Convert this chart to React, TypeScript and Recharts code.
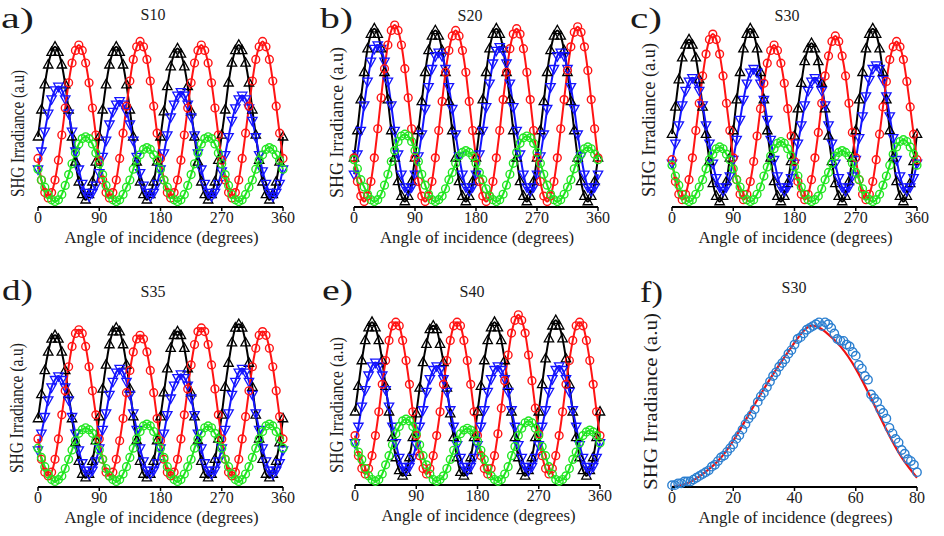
import { LineChart, Line, XAxis, YAxis } from 'recharts'

const SERIF = '"Liberation Serif", "Times New Roman", serif'
const INK = '#1b1b1b'

// rotation scans: one sample every 5 degrees, 0..360
const ANGLES = Array.from({ length: 73 }, (_, i) => i * 5)
const ROTATION_TICKS = [0, 90, 180, 270, 360]

// incidence scan: one sample per degree, 0..80
const INCIDENCE = Array.from({ length: 81 }, (_, i) => i)
const INCIDENCE_TICKS = [0, 20, 40, 60, 80]
const FIT_STEP = 5

// S10
const s10Black = [.39,.54,.68,.79,.86,.89,.86,.79,.68,.54,.39,.25,.14,.07,.04,.07,.14,.25,.39,.54,.68,.79,.86,.89,.86,.79,.68,.54,.39,.25,.14,.07,.04,.07,.14,.25,.39,.53,.67,.78,.85,.88,.85,.78,.67,.53,.39,.25,.14,.07,.04,.07,.14,.26,.40,.54,.69,.80,.87,.90,.87,.80,.69,.54,.40,.26,.14,.07,.04,.07,.14,.25,.39]
const s10Blue = [.21,.31,.42,.52,.60,.65,.67,.65,.60,.52,.42,.31,.21,.13,.08,.06,.08,.12,.19,.28,.37,.46,.53,.57,.59,.57,.53,.46,.37,.28,.19,.12,.08,.06,.08,.13,.21,.30,.40,.50,.57,.62,.64,.62,.57,.50,.40,.30,.21,.13,.08,.06,.08,.13,.20,.29,.39,.48,.55,.60,.62,.60,.55,.48,.39,.29,.20,.13,.08,.06,.08,.13,.21]
const s10Red = [.27,.15,.08,.05,.08,.15,.26,.40,.55,.69,.80,.87,.90,.87,.80,.69,.55,.40,.26,.15,.08,.05,.08,.15,.27,.41,.56,.70,.82,.89,.92,.89,.82,.70,.56,.41,.27,.15,.08,.05,.08,.15,.26,.40,.55,.69,.80,.87,.90,.87,.80,.69,.55,.40,.26,.15,.08,.05,.08,.15,.27,.41,.56,.70,.82,.89,.92,.89,.82,.70,.56,.41,.27]
const s10Green = [.21,.15,.11,.07,.04,.03,.04,.07,.12,.18,.24,.30,.35,.38,.39,.38,.35,.30,.24,.18,.12,.07,.04,.03,.04,.07,.11,.15,.21,.26,.29,.32,.33,.32,.29,.26,.21,.15,.11,.07,.04,.03,.04,.07,.12,.18,.24,.30,.35,.38,.39,.38,.35,.30,.24,.18,.12,.07,.04,.03,.04,.07,.11,.15,.21,.26,.29,.32,.33,.32,.29,.26,.21]

// S20
const s20Black = [.27,.42,.59,.74,.87,.95,.98,.95,.87,.74,.59,.42,.27,.14,.06,.03,.06,.14,.27,.42,.58,.74,.86,.94,.97,.94,.86,.74,.58,.42,.27,.14,.06,.03,.06,.14,.27,.42,.59,.74,.87,.95,.98,.95,.87,.74,.59,.42,.27,.14,.06,.03,.06,.14,.27,.42,.58,.74,.86,.94,.97,.94,.86,.74,.58,.42,.27,.14,.06,.03,.06,.14,.27]
const s20Blue = [.18,.29,.42,.56,.69,.80,.87,.89,.87,.80,.69,.56,.42,.29,.18,.11,.09,.11,.18,.28,.40,.54,.66,.76,.83,.85,.83,.76,.66,.54,.40,.28,.18,.11,.09,.11,.18,.29,.42,.55,.68,.79,.86,.88,.86,.79,.68,.55,.42,.29,.18,.11,.09,.11,.18,.28,.40,.54,.66,.76,.83,.85,.83,.76,.66,.54,.40,.28,.18,.11,.09,.11,.18]
const s20Red = [.27,.14,.06,.03,.06,.14,.27,.43,.60,.76,.89,.97,1.0,.97,.89,.76,.60,.43,.27,.14,.06,.03,.06,.14,.27,.42,.58,.74,.86,.94,.97,.94,.86,.74,.58,.42,.27,.14,.06,.03,.06,.14,.27,.42,.59,.74,.87,.95,.98,.95,.87,.74,.59,.42,.27,.14,.06,.03,.06,.14,.27,.43,.59,.75,.88,.96,.99,.96,.88,.75,.59,.43,.27]
const s20Green = [.26,.21,.15,.11,.07,.04,.03,.04,.07,.12,.18,.25,.31,.36,.39,.40,.39,.36,.31,.25,.18,.12,.07,.04,.03,.04,.06,.10,.15,.19,.24,.28,.30,.31,.30,.28,.24,.19,.15,.10,.06,.04,.03,.04,.07,.12,.18,.24,.30,.35,.38,.39,.38,.35,.30,.24,.18,.12,.07,.04,.03,.04,.07,.11,.15,.21,.26,.29,.32,.33,.32,.29,.26]

// S30
const s30Black = [.40,.55,.70,.82,.89,.92,.89,.82,.70,.55,.40,.25,.13,.06,.03,.06,.14,.27,.42,.59,.74,.87,.95,.98,.95,.87,.74,.59,.42,.27,.14,.06,.03,.06,.13,.25,.39,.54,.68,.80,.87,.90,.87,.80,.68,.54,.39,.25,.13,.06,.03,.06,.14,.27,.42,.59,.74,.87,.95,.98,.95,.87,.74,.59,.42,.27,.14,.06,.03,.06,.13,.25,.40]
const s30Blue = [.24,.35,.45,.56,.64,.69,.71,.69,.64,.56,.45,.35,.24,.16,.11,.09,.11,.17,.26,.37,.48,.59,.68,.74,.76,.74,.68,.59,.48,.37,.26,.17,.11,.09,.11,.16,.24,.35,.45,.56,.64,.69,.71,.69,.64,.56,.45,.35,.24,.16,.11,.09,.11,.17,.26,.38,.50,.61,.70,.76,.78,.76,.70,.61,.50,.38,.26,.17,.11,.09,.11,.16,.24]
const s30Red = [.26,.14,.07,.04,.07,.15,.27,.42,.57,.72,.84,.92,.95,.92,.84,.72,.57,.42,.27,.15,.07,.04,.07,.14,.25,.39,.54,.68,.79,.86,.89,.86,.79,.68,.54,.39,.25,.14,.07,.04,.07,.15,.27,.41,.57,.72,.83,.91,.94,.91,.83,.72,.57,.41,.27,.15,.07,.04,.07,.14,.26,.40,.55,.69,.81,.88,.91,.88,.81,.69,.55,.40,.26]
const s30Green = [.23,.17,.12,.07,.04,.03,.04,.07,.11,.15,.21,.26,.29,.32,.33,.32,.29,.26,.21,.15,.11,.07,.04,.03,.04,.07,.11,.17,.22,.28,.32,.35,.36,.35,.32,.28,.22,.17,.11,.07,.04,.03,.04,.06,.10,.15,.19,.24,.28,.30,.31,.30,.28,.24,.19,.15,.10,.06,.04,.03,.04,.07,.12,.17,.23,.29,.33,.36,.37,.36,.33,.29,.23]

// S35
const s35Black = [.37,.50,.63,.73,.80,.82,.80,.73,.63,.50,.37,.24,.14,.07,.05,.07,.14,.25,.38,.53,.66,.77,.84,.86,.84,.77,.66,.53,.38,.25,.14,.07,.05,.07,.14,.25,.38,.51,.64,.75,.82,.84,.82,.75,.64,.51,.38,.25,.14,.07,.05,.07,.15,.26,.39,.54,.67,.78,.86,.88,.86,.78,.67,.54,.39,.26,.15,.07,.05,.07,.14,.24,.37]
const s35Blue = [.20,.29,.38,.47,.54,.58,.60,.58,.54,.47,.38,.29,.20,.13,.09,.07,.09,.14,.21,.31,.40,.50,.57,.62,.64,.62,.57,.50,.40,.31,.21,.14,.09,.07,.09,.13,.21,.29,.39,.48,.55,.59,.61,.59,.55,.48,.39,.29,.21,.13,.09,.07,.09,.14,.21,.31,.40,.50,.57,.62,.64,.62,.57,.50,.40,.31,.21,.14,.09,.07,.09,.13,.20]
const s35Red = [.26,.15,.08,.06,.08,.15,.26,.39,.52,.65,.76,.83,.85,.83,.76,.65,.52,.39,.26,.15,.08,.06,.08,.15,.25,.37,.51,.63,.73,.80,.82,.80,.73,.63,.51,.37,.25,.15,.08,.06,.08,.15,.26,.39,.53,.66,.77,.84,.86,.84,.77,.66,.53,.39,.26,.15,.08,.06,.08,.15,.26,.38,.52,.65,.75,.82,.84,.82,.75,.65,.52,.38,.26]
const s35Green = [.21,.16,.11,.07,.04,.03,.04,.06,.10,.15,.20,.25,.29,.31,.32,.31,.29,.25,.20,.15,.10,.06,.04,.03,.04,.07,.11,.16,.21,.26,.30,.33,.34,.33,.30,.26,.21,.16,.11,.07,.04,.03,.04,.07,.11,.15,.21,.26,.29,.32,.33,.32,.29,.26,.21,.15,.11,.07,.04,.03,.04,.07,.11,.16,.21,.26,.30,.33,.34,.33,.30,.26,.21]

// S40
const s40Black = [.40,.54,.68,.79,.86,.89,.86,.79,.68,.54,.40,.26,.15,.08,.05,.07,.15,.26,.39,.53,.67,.77,.85,.87,.85,.77,.67,.53,.39,.26,.15,.07,.05,.08,.15,.26,.40,.54,.68,.79,.86,.89,.86,.79,.68,.54,.40,.26,.15,.08,.05,.08,.15,.26,.40,.55,.69,.80,.87,.90,.87,.80,.69,.55,.40,.26,.15,.08,.05,.08,.15,.26,.40]
const s40Blue = [.23,.32,.43,.52,.60,.65,.67,.65,.60,.52,.43,.32,.23,.15,.10,.08,.10,.15,.22,.32,.41,.51,.58,.63,.65,.63,.58,.51,.41,.32,.22,.15,.10,.08,.10,.15,.22,.32,.41,.51,.58,.63,.65,.63,.58,.51,.41,.32,.22,.15,.10,.08,.10,.15,.22,.32,.41,.51,.58,.63,.65,.63,.58,.51,.41,.32,.22,.15,.10,.08,.10,.15,.23]
const s40Red = [.27,.16,.09,.06,.09,.16,.27,.40,.55,.68,.79,.87,.89,.87,.79,.68,.55,.40,.27,.16,.09,.06,.09,.16,.27,.40,.55,.68,.79,.87,.89,.87,.79,.68,.55,.40,.27,.16,.09,.06,.09,.16,.28,.42,.57,.71,.83,.90,.93,.90,.83,.71,.57,.42,.28,.16,.09,.06,.09,.16,.27,.40,.55,.68,.79,.87,.89,.87,.79,.68,.55,.40,.27]
const s40Green = [.23,.18,.14,.09,.05,.03,.02,.03,.06,.11,.16,.22,.28,.32,.35,.36,.35,.32,.28,.22,.16,.11,.06,.03,.02,.03,.05,.09,.14,.19,.24,.28,.30,.31,.30,.28,.24,.19,.14,.09,.05,.03,.02,.03,.06,.10,.16,.21,.27,.31,.34,.35,.34,.31,.27,.21,.16,.10,.06,.03,.02,.03,.05,.09,.14,.18,.23,.27,.29,.30,.29,.27,.23]

// S30 incidence scan: measured points and the fitted curve (every 5 degrees)
const s30Measured = [.01,.01,.02,.02,.03,.03,.03,.04,.05,.06,.07,.08,.09,.11,.12,.14,.16,.17,.19,.21,.23,.26,.28,.31,.34,.37,.39,.42,.46,.49,.51,.54,.57,.60,.62,.65,.67,.69,.72,.74,.77,.80,.81,.83,.85,.86,.87,.88,.89,.87,.89,.88,.86,.83,.80,.79,.79,.77,.76,.73,.71,.66,.64,.60,.58,.50,.48,.46,.42,.40,.37,.32,.29,.26,.24,.20,.18,.15,.14,.12,.08]
const s30Fit = [0, .02, .07, .14, .25, .39, .53, .66, .78, .87, .84, .76, .64, .48, .31, .16, .05]

const COLORS = { black: '#000000', blue: '#1414ff', red: '#ff1414', green: '#22e622' }
const MEASURED_BLUE = '#2b7fd0'
const FIT_RED = '#ee1111'

type Box = { left: number; top: number; width: number; height: number }

const rotationRows = (black: number[], blue: number[], red: number[], green: number[]) =>
  ANGLES.map((angle, i) => ({ angle, black: black[i], blue: blue[i], red: red[i], green: green[i] }))

const incidenceRows = INCIDENCE.map((angle, i) => ({
  angle,
  measured: s30Measured[i],
  fit: angle % FIT_STEP === 0 ? s30Fit[angle / FIT_STEP] : null,
}))

const ROTATION_PANELS = [
  { id: 'a', title: 'S10', rows: rotationRows(s10Black, s10Blue, s10Red, s10Green), box: { left: 38, top: 27, width: 245, height: 180 }, letterX: 1, letterY: 28, letterW: 33, titleX: 153, titleY: 20, yLabel: { x: 17.5, top: 70, bottom: 197 } },
  { id: 'b', title: 'S20', rows: rotationRows(s20Black, s20Blue, s20Red, s20Green), box: { left: 354, top: 25, width: 244, height: 182 }, letterX: 320, letterY: 28, letterW: 33, titleX: 470, titleY: 21, yLabel: { x: 336.5, top: 47, bottom: 198 } },
  { id: 'c', title: 'S30', rows: rotationRows(s30Black, s30Blue, s30Red, s30Green), box: { left: 672, top: 25, width: 245, height: 182 }, letterX: 630, letterY: 28, letterW: 32, titleX: 787, titleY: 21, yLabel: { x: 648.5, top: 43, bottom: 197 } },
  { id: 'd', title: 'S35', rows: rotationRows(s35Black, s35Blue, s35Red, s35Green), box: { left: 38, top: 302, width: 245, height: 185 }, letterX: 2, letterY: 300, letterW: 31, titleX: 153, titleY: 297, yLabel: { x: 16.5, top: 343, bottom: 473 } },
  { id: 'e', title: 'S40', rows: rotationRows(s40Black, s40Blue, s40Red, s40Green), box: { left: 355, top: 302, width: 245, height: 183 }, letterX: 322, letterY: 300, letterW: 31, titleX: 472, titleY: 297, yLabel: { x: 336.5, top: 337, bottom: 473 } },
]

const INCIDENCE_PANEL = { id: 'f', title: 'S30', box: { left: 672, top: 302, width: 245, height: 185 }, letterX: 640, letterY: 302, letterW: 23, titleX: 794, titleY: 293, yLabel: { x: 650, top: 313, bottom: 490 } }

const PAD = { top: 10, right: 16, left: 10 }
const AXIS_H = 30

function marker(kind: 'up' | 'down' | 'circle', color: string, r = 3.9) {
  return (props: any) => {
    const { cx, cy, index } = props
    if (cx == null || cy == null) return <g key={index} />
    if (kind === 'circle') {
      return <circle key={index} cx={cx} cy={cy} r={r} fill="none" stroke={color} strokeWidth={1.4} />
    }
    const s = kind === 'up' ? 1 : -1
    const d = `M${cx},${cy - 5.2 * s}L${cx + 4.7},${cy + 3.2 * s}L${cx - 4.7},${cy + 3.2 * s}Z`
    return <path key={index} d={d} fill="none" stroke={color} strokeWidth={1.3} />
  }
}

function PanelChart({ box, rows, xDomain, xTicks, children }: { box: Box; rows: any[]; xDomain: [number, number]; xTicks: number[]; children: any }) {
  return (
    <div style={{ position: 'absolute', left: box.left - PAD.left, top: box.top - PAD.top }}>
      <LineChart
        width={box.width + PAD.left + PAD.right}
        height={box.height + PAD.top + AXIS_H}
        data={rows}
        margin={{ top: PAD.top, right: PAD.right, left: PAD.left, bottom: 0 }}
      >
        <XAxis
          type="number"
          dataKey="angle"
          domain={xDomain}
          ticks={xTicks}
          interval={0}
          height={AXIS_H}
          tickSize={4}
          tickMargin={1}
          axisLine={{ stroke: '#000', strokeWidth: 2 }}
          tickLine={{ stroke: '#000', strokeWidth: 1.5 }}
          tick={{ fontSize: 16, fill: INK, fontFamily: SERIF }}
        />
        <YAxis type="number" domain={[0, 1]} width={0} tick={false} tickLine={false} axisLine={{ stroke: '#000', strokeWidth: 2 }} />
        {children}
      </LineChart>
    </div>
  )
}

function rotationLines() {
  return [
    <Line key="black" dataKey="black" type="monotone" stroke={COLORS.black} strokeWidth={2} dot={marker('up', COLORS.black)} isAnimationActive={false} />,
    <Line key="blue" dataKey="blue" type="monotone" stroke={COLORS.blue} strokeWidth={2} dot={marker('down', COLORS.blue)} isAnimationActive={false} />,
    <Line key="red" dataKey="red" type="monotone" stroke={COLORS.red} strokeWidth={2} dot={marker('circle', COLORS.red)} isAnimationActive={false} />,
    <Line key="green" dataKey="green" type="monotone" stroke={COLORS.green} strokeWidth={2} dot={marker('circle', COLORS.green)} isAnimationActive={false} />,
  ]
}

type Labels = { id: string; title: string; box: Box; letterX: number; letterY: number; letterW: number; titleX: number; titleY: number; yLabel: { x: number; top: number; bottom: number } }

function PanelText({ p }: { p: Labels }) {
  const yMid = (p.yLabel.top + p.yLabel.bottom) / 2
  const yLen = p.yLabel.bottom - p.yLabel.top
  return (
    <g fill={INK} fontFamily={SERIF}>
      <text x={p.letterX} y={p.letterY} fontSize={30} textLength={p.letterW} lengthAdjust="spacingAndGlyphs">{`${p.id})`}</text>
      <text x={p.titleX} y={p.titleY} fontSize={16} textAnchor="middle">{p.title}</text>
      <text
        transform={`translate(${p.yLabel.x},${yMid}) rotate(-90)`}
        fontSize={19}
        textAnchor="middle"
        dominantBaseline="central"
        textLength={yLen}
        lengthAdjust="spacingAndGlyphs"
      >
        SHG Irradiance (a.u)
      </text>
      <text
        x={p.box.left + p.box.width / 2 + 1}
        y={p.box.top + p.box.height + 36}
        fontSize={17}
        textAnchor="middle"
        textLength={194}
        lengthAdjust="spacingAndGlyphs"
      >
        Angle of incidence (degrees)
      </text>
    </g>
  )
}

export default function App() {
  return (
    <div style={{ position: 'absolute', left: 0, top: 0, width: 944, height: 536, background: '#fff', overflow: 'hidden' }}>
      {ROTATION_PANELS.map((p) => (
        <PanelChart key={p.id} box={p.box} rows={p.rows} xDomain={[0, 360]} xTicks={ROTATION_TICKS}>
          {rotationLines()}
        </PanelChart>
      ))}
      <PanelChart box={INCIDENCE_PANEL.box} rows={incidenceRows} xDomain={[0, 80]} xTicks={INCIDENCE_TICKS}>
        {[
          <Line key="measured" dataKey="measured" stroke="none" dot={marker('circle', MEASURED_BLUE, 4.2)} isAnimationActive={false} />,
          <Line key="fit" dataKey="fit" type="natural" connectNulls stroke={FIT_RED} strokeWidth={2.2} dot={false} isAnimationActive={false} />,
        ]}
      </PanelChart>
      <svg width={944} height={536} style={{ position: 'absolute', left: 0, top: 0, pointerEvents: 'none' }}>
        {ROTATION_PANELS.map((p) => (
          <PanelText key={p.id} p={p} />
        ))}
        <PanelText p={INCIDENCE_PANEL} />
      </svg>
    </div>
  )
}
